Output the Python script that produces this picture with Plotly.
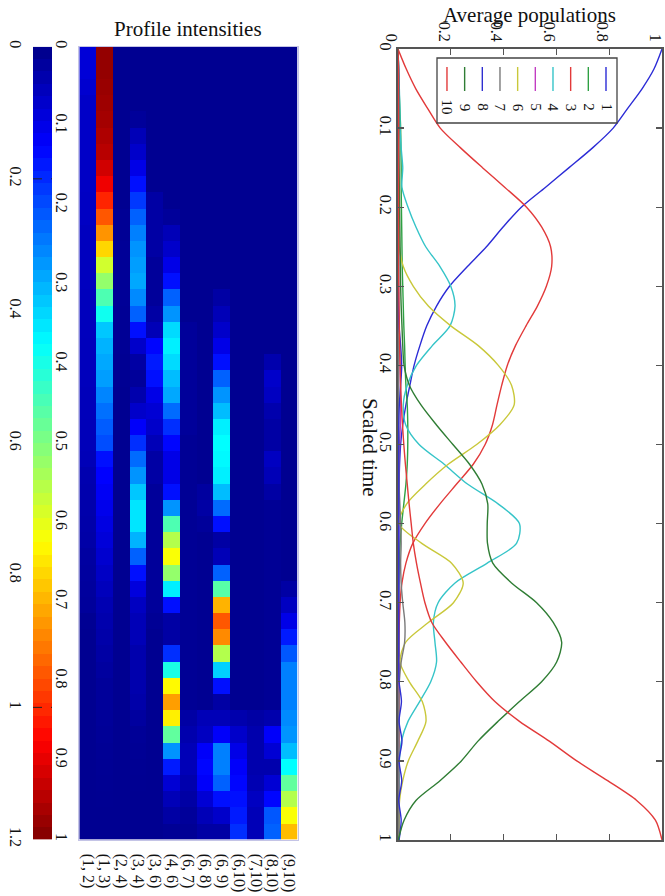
import numpy as np
import plotly.graph_objects as go

FONT = "Liberation Serif"

# ---------------- Heatmap data (Profile intensities) ----------------
pair_labels = ["(1, 2)", "(1, 3)", "(2, 4)", "(3, 4)", "(3, 6)", "(4, 6)", "(6, 7)",
               "(6, 8)", "(6, 9)", "(6,10)", "(7,10)", "(8,10)", "(9,10)"]
n_time_bins = 49

pair_1_2 = [0.10, 0.10, 0.09, 0.08, 0.08, 0.08, 0.08, 0.078, 0.078, 0.075,
            0.075, 0.07, 0.07, 0.07, 0.07, 0.068, 0.068, 0.068, 0.066, 0.066,
            0.066, 0.064, 0.064, 0.062, 0.062, 0.06, 0.05, 0.048, 0.045, 0.042,
            0.04, 0.032, 0.03, 0.028, 0.025, 0.015, 0.013, 0.012, 0.012, 0.012,
            0.012, 0.012, 0.012, 0.012, 0.012, 0.012, 0.012, 0.012, 0.012]
pair_1_3 = [1.176, 1.176, 1.17, 1.164, 1.158, 1.146, 1.134, 1.104, 1.068, 1.008,
            0.948, 0.876, 0.798, 0.696, 0.624, 0.54, 0.468, 0.384, 0.36, 0.348,
            0.336, 0.306, 0.282, 0.258, 0.24, 0.168, 0.15, 0.138, 0.126, 0.114,
            0.102, 0.09, 0.078, 0.066, 0.054, 0.048, 0.042, 0.036, 0.03, 0.024,
            0.024, 0.022, 0.02, 0.018, 0.016, 0.015, 0.014, 0.013, 0.012]
pair_2_4 = [0.012, 0.012, 0.012, 0.012, 0.012, 0.012, 0.012, 0.012, 0.012, 0.012,
            0.018, 0.018, 0.02, 0.02, 0.02, 0.02, 0.018, 0.018, 0.018, 0.015,
            0.015, 0.012, 0.012, 0.012, 0.012, 0.012, 0.012, 0.012, 0.012, 0.012,
            0.012, 0.012, 0.012, 0.012, 0.012, 0.012, 0.012, 0.012, 0.012, 0.012,
            0.012, 0.012, 0.012, 0.012, 0.012, 0.012, 0.012, 0.012, 0.012]
pair_3_4 = [0.012, 0.012, 0.012, 0.012, 0.024, 0.06, 0.084, 0.12, 0.168, 0.216,
            0.264, 0.3, 0.324, 0.336, 0.348, 0.312, 0.264, 0.168, 0.084, 0.036,
            0.024, 0.048, 0.084, 0.144, 0.204, 0.276, 0.324, 0.384, 0.42, 0.42,
            0.36, 0.264, 0.168, 0.108, 0.072, 0.06, 0.06, 0.048, 0.048, 0.048,
            0.042, 0.03, 0.02, 0.018, 0.015, 0.014, 0.013, 0.012, 0.012]
pair_3_6 = [0.012, 0.012, 0.012, 0.012, 0.012, 0.012, 0.012, 0.012, 0.012, 0.036,
            0.036, 0.036, 0.036, 0.024, 0.024, 0.024, 0.036, 0.06, 0.156, 0.18,
            0.168, 0.12, 0.096, 0.084, 0.06, 0.036, 0.036, 0.024, 0.024, 0.024,
            0.024, 0.024, 0.024, 0.024, 0.024, 0.018, 0.012, 0.012, 0.012, 0.012,
            0.012, 0.012, 0.012, 0.012, 0.012, 0.012, 0.012, 0.012, 0.012]
pair_4_6 = [0.012, 0.012, 0.012, 0.012, 0.012, 0.012, 0.012, 0.012, 0.012, 0.012,
            0.024, 0.06, 0.084, 0.12, 0.168, 0.264, 0.324, 0.408, 0.432, 0.408,
            0.372, 0.348, 0.276, 0.204, 0.156, 0.12, 0.12, 0.168, 0.324, 0.54,
            0.66, 0.744, 0.624, 0.432, 0.168, 0.036, 0.036, 0.204, 0.48, 0.756,
            0.864, 0.768, 0.564, 0.324, 0.18, 0.096, 0.06, 0.036, 0.018]
pair_6_7 = [0.012, 0.012, 0.012, 0.012, 0.012, 0.012, 0.012, 0.012, 0.012, 0.012,
            0.012, 0.012, 0.012, 0.012, 0.012, 0.012, 0.012, 0.024, 0.024, 0.024,
            0.024, 0.024, 0.024, 0.024, 0.018, 0.018, 0.018, 0.018, 0.018, 0.018,
            0.018, 0.018, 0.018, 0.018, 0.018, 0.018, 0.018, 0.018, 0.018, 0.018,
            0.018, 0.036, 0.048, 0.06, 0.06, 0.048, 0.036, 0.024, 0.018]
pair_6_8 = [0.012, 0.012, 0.012, 0.012, 0.012, 0.012, 0.012, 0.012, 0.012, 0.012,
            0.012, 0.012, 0.012, 0.012, 0.012, 0.012, 0.012, 0.012, 0.012, 0.012,
            0.012, 0.012, 0.012, 0.012, 0.012, 0.012, 0.012, 0.03, 0.036, 0.024,
            0.014, 0.014, 0.014, 0.014, 0.014, 0.014, 0.014, 0.014, 0.014, 0.014,
            0.014, 0.06, 0.072, 0.144, 0.156, 0.144, 0.096, 0.06, 0.036]
pair_6_9 = [0.012, 0.012, 0.012, 0.012, 0.012, 0.012, 0.012, 0.012, 0.012, 0.012,
            0.012, 0.012, 0.012, 0.012, 0.012, 0.036, 0.06, 0.084, 0.12, 0.168,
            0.264, 0.324, 0.372, 0.432, 0.45, 0.444, 0.432, 0.372, 0.276, 0.168,
            0.036, 0.06, 0.264, 0.552, 0.84, 0.948, 0.888, 0.66, 0.396, 0.168,
            0.036, 0.06, 0.144, 0.3, 0.3, 0.264, 0.168, 0.084, 0.036]
pair_6_10 = [0.012, 0.012, 0.012, 0.012, 0.012, 0.012, 0.012, 0.012, 0.012, 0.012,
             0.012, 0.012, 0.012, 0.012, 0.012, 0.012, 0.012, 0.012, 0.012, 0.012,
             0.012, 0.012, 0.012, 0.012, 0.012, 0.012, 0.012, 0.012, 0.012, 0.012,
             0.012, 0.012, 0.012, 0.012, 0.012, 0.012, 0.012, 0.012, 0.012, 0.012,
             0.012, 0.048, 0.084, 0.12, 0.144, 0.156, 0.168, 0.18, 0.204]
pair_7_10 = [0.012, 0.012, 0.012, 0.012, 0.012, 0.012, 0.012, 0.012, 0.012, 0.012,
             0.012, 0.012, 0.012, 0.012, 0.012, 0.012, 0.012, 0.012, 0.012, 0.012,
             0.012, 0.012, 0.012, 0.012, 0.012, 0.012, 0.012, 0.012, 0.012, 0.012,
             0.012, 0.012, 0.012, 0.012, 0.012, 0.012, 0.012, 0.012, 0.012, 0.012,
             0.012, 0.036, 0.048, 0.048, 0.048, 0.054, 0.072, 0.06, 0.06]
pair_8_10 = [0.012, 0.012, 0.012, 0.012, 0.012, 0.012, 0.012, 0.012, 0.012, 0.012,
             0.012, 0.012, 0.012, 0.012, 0.012, 0.012, 0.012, 0.012, 0.012, 0.048,
             0.084, 0.072, 0.048, 0.036, 0.036, 0.072, 0.06, 0.036, 0.018, 0.018,
             0.018, 0.018, 0.018, 0.018, 0.018, 0.018, 0.018, 0.018, 0.018, 0.018,
             0.018, 0.048, 0.144, 0.096, 0.048, 0.096, 0.156, 0.252, 0.264]
pair_9_10 = [0.012, 0.012, 0.012, 0.012, 0.012, 0.012, 0.012, 0.012, 0.012, 0.012,
             0.012, 0.012, 0.012, 0.012, 0.012, 0.012, 0.012, 0.012, 0.012, 0.012,
             0.012, 0.012, 0.012, 0.012, 0.012, 0.012, 0.012, 0.012, 0.012, 0.012,
             0.012, 0.012, 0.012, 0.036, 0.072, 0.12, 0.18, 0.252, 0.3, 0.3,
             0.3, 0.312, 0.324, 0.372, 0.45, 0.564, 0.66, 0.744, 0.828]

intensity_columns = [pair_1_2, pair_1_3, pair_2_4, pair_3_4, pair_3_6, pair_4_6, pair_6_7,
                     pair_6_8, pair_6_9, pair_6_10, pair_7_10, pair_8_10, pair_9_10]
intensity = np.array(intensity_columns, dtype=float).T  # rows = time bins

colorbar_ticks = [0, 0.2, 0.4, 0.6, 0.8, 1.0, 1.2]
colorbar_ticktext = ["0", "0.2", "0.4", "0.6", "0.8", "1", "1.2"]
colorbar_marks = [0.2, 1.0]
n_colors = 64
cmax = 1.2

# ---------------- Line data (Average populations) ----------------
time_grid = [0.0, 0.025, 0.05, 0.075, 0.1, 0.125, 0.15, 0.175, 0.2, 0.225,
             0.25, 0.275, 0.3, 0.325, 0.35, 0.375, 0.4, 0.425, 0.45, 0.475,
             0.5, 0.525, 0.55, 0.575, 0.6, 0.625, 0.65, 0.675, 0.7, 0.725,
             0.75, 0.775, 0.8, 0.825, 0.85, 0.875, 0.9, 0.925, 0.95, 0.975, 1.0]

pop_1 = [1.0, 0.97, 0.925, 0.87, 0.815, 0.737, 0.648, 0.558, 0.467, 0.398,
         0.335, 0.263, 0.195, 0.146, 0.109, 0.083, 0.061, 0.045, 0.03, 0.018,
         0.01, 0.006, 0.004, 0.003, 0.003, 0.003, 0.003, 0.003, 0.002, 0.002,
         0.002, 0.002, 0.002, 0.002, 0.002, 0.002, 0.002, 0.002, 0.002, 0.002, 0.002]
pop_2 = [0.0, 0.002, 0.004, 0.007, 0.01, 0.011, 0.012, 0.012, 0.013, 0.014,
         0.015, 0.016, 0.018, 0.02, 0.022, 0.025, 0.027, 0.03, 0.035, 0.037,
         0.037, 0.035, 0.03, 0.022, 0.014, 0.008, 0.005, 0.003, 0.003, 0.003,
         0.003, 0.003, 0.003, 0.003, 0.003, 0.003, 0.003, 0.003, 0.003, 0.003, 0.003]
pop_3 = [0.0, 0.031, 0.067, 0.112, 0.16, 0.237, 0.32, 0.405, 0.487, 0.544,
         0.578, 0.582, 0.562, 0.528, 0.485, 0.445, 0.414, 0.393, 0.375, 0.358,
         0.33, 0.285, 0.222, 0.159, 0.102, 0.056, 0.03, 0.015, 0.008, 0.005,
         0.003, 0.003, 0.003, 0.003, 0.003, 0.003, 0.003, 0.003, 0.003, 0.003, 0.003]
pop_4 = [0.0, 0.003, 0.005, 0.007, 0.008, 0.012, 0.018, 0.015, 0.038, 0.068,
         0.105, 0.159, 0.2, 0.216, 0.197, 0.13, 0.07, 0.035, 0.02, 0.029,
         0.08, 0.175, 0.263, 0.379, 0.46, 0.449, 0.338, 0.216, 0.152, 0.134,
         0.14, 0.146, 0.124, 0.082, 0.038, 0.013, 0.005, 0.004, 0.003, 0.003, 0.003]
pop_5 = [0.0, 0.001, 0.001, 0.001, 0.001, 0.001, 0.001, 0.001, 0.001, 0.001,
         0.001, 0.001, 0.001, 0.001, 0.004, 0.006, 0.008, 0.009, 0.01, 0.009,
         0.006, 0.004, 0.003, 0.002, 0.002, 0.002, 0.002, 0.002, 0.002, 0.002,
         0.002, 0.002, 0.002, 0.002, 0.002, 0.002, 0.002, 0.002, 0.002, 0.002, 0.002]
pop_6 = [0.0, 0.001, 0.001, 0.001, 0.001, 0.001, 0.001, 0.002, 0.002, 0.003,
         0.005, 0.02, 0.058, 0.115, 0.2, 0.304, 0.38, 0.43, 0.44, 0.386,
         0.298, 0.19, 0.105, 0.033, 0.004, 0.09, 0.203, 0.247, 0.21, 0.115,
         0.029, 0.008, 0.043, 0.092, 0.106, 0.075, 0.039, 0.018, 0.006, 0.003, 0.002]
pop_7 = [0.0, 0.002, 0.002, 0.002, 0.002, 0.002, 0.002, 0.002, 0.002, 0.002,
         0.002, 0.002, 0.002, 0.002, 0.002, 0.002, 0.002, 0.002, 0.002, 0.002,
         0.003, 0.003, 0.004, 0.007, 0.01, 0.012, 0.01, 0.012, 0.018, 0.026,
         0.025, 0.012, 0.005, 0.003, 0.003, 0.003, 0.003, 0.003, 0.003, 0.003, 0.003]
pop_8 = [0.0, 0.002, 0.002, 0.002, 0.002, 0.002, 0.002, 0.002, 0.002, 0.002,
         0.002, 0.002, 0.002, 0.002, 0.004, 0.01, 0.014, 0.01, 0.005, 0.003,
         0.003, 0.003, 0.003, 0.003, 0.003, 0.003, 0.003, 0.003, 0.003, 0.003,
         0.003, 0.003, 0.004, 0.013, 0.004, 0.015, 0.004, 0.014, 0.003, 0.012, 0.004]
pop_9 = [0.0, 0.001, 0.002, 0.002, 0.003, 0.003, 0.004, 0.005, 0.006, 0.007,
         0.008, 0.009, 0.01, 0.012, 0.015, 0.018, 0.023, 0.043, 0.087, 0.145,
         0.208, 0.271, 0.318, 0.34, 0.338, 0.339, 0.359, 0.43, 0.525, 0.588,
         0.62, 0.601, 0.544, 0.46, 0.379, 0.303, 0.24, 0.159, 0.068, 0.023, 0.001]
pop_10 = [0.0, 0.002, 0.002, 0.002, 0.002, 0.002, 0.002, 0.002, 0.002, 0.002,
          0.002, 0.002, 0.003, 0.004, 0.005, 0.006, 0.008, 0.01, 0.013, 0.017,
          0.022, 0.028, 0.035, 0.042, 0.05, 0.058, 0.07, 0.085, 0.102, 0.128,
          0.18, 0.238, 0.298, 0.367, 0.46, 0.573, 0.677, 0.794, 0.904, 0.975, 1.0]

populations = [pop_1, pop_2, pop_3, pop_4, pop_5, pop_6, pop_7, pop_8, pop_9, pop_10]
series_names = ["1", "2", "3", "4", "5", "6", "7", "8", "9", "10"]
series_colors = ["#2b2bd6", "#2ea043", "#e23a3a", "#35c4c8", "#c23cc2",
                 "#c9c83a", "#7a7a7a", "#2f2fd0", "#2f7d34", "#e23a3a"]

pop_ticks = [0, 0.2, 0.4, 0.6, 0.8, 1.0]
pop_ticktext = ["0", "0.2", "0.4", "0.6", "0.8", "1"]
time_ticks = [0, 0.1, 0.2, 0.3, 0.4, 0.5, 0.6, 0.7, 0.8, 0.9, 1.0]
time_ticktext = ["0", "0.1", "0.2", "0.3", "0.4", "0.5", "0.6", "0.7", "0.8", "0.9", "1"]

# MATLAB-like jet colormap
JET = [[0.0, "rgb(0,0,135)"], [0.125, "rgb(0,0,255)"], [0.375, "rgb(0,255,255)"],
       [0.625, "rgb(255,255,0)"], [0.875, "rgb(255,0,0)"], [1.0, "rgb(128,0,0)"]]

W, H = 665, 896


def px_x(x):
    return x / W


def px_y(y):
    return 1 - y / H


fig = go.Figure()

# Heatmap
fig.add_trace(go.Heatmap(
    z=intensity, x=pair_labels, y0=0.5 / n_time_bins, dy=1.0 / n_time_bins,
    colorscale=JET, zmin=0, zmax=cmax, showscale=False,
    xaxis="x", yaxis="y", hoverinfo="skip"))

# Colorbar drawn as a one-column heatmap (0 at top)
cb_step = cmax / n_colors
cb_levels = (np.arange(n_colors) + 0.5) * cb_step
fig.add_trace(go.Heatmap(
    z=[[v] for v in cb_levels], x=[0], y0=cb_step / 2, dy=cb_step,
    colorscale=JET, zmin=0, zmax=cmax, showscale=False,
    xaxis="x3", yaxis="y3", hoverinfo="skip"))

# Population lines
for name, vals, col in zip(series_names, populations, series_colors):
    fig.add_trace(go.Scatter(
        x=vals, y=time_grid, mode="lines", name=name,
        line=dict(color=col, width=1.4, shape="spline", smoothing=0.8),
        xaxis="x2", yaxis="y2", showlegend=False, hoverinfo="skip"))

tickfont = dict(family=FONT, size=16, color="#111")
hm_y_dom = [px_y(839.5), px_y(46.7)]
lp_y_dom = [px_y(840), px_y(49)]

fig.update_layout(
    width=W, height=H, template="none",
    margin=dict(l=0, r=0, t=0, b=0),
    paper_bgcolor="white", plot_bgcolor="white",
    font=dict(family=FONT, size=16, color="#111"),
    xaxis=dict(domain=[px_x(79.3), px_x(297.7)], anchor="y", type="category",
               tickmode="array", tickvals=pair_labels, ticktext=pair_labels,
               tickangle=90, ticks="", tickfont=tickfont, showgrid=False, zeroline=False,
               showline=True, linecolor="#c4c4e6", linewidth=1, mirror=True,
               automargin=False, ticklabelstandoff=10),
    yaxis=dict(domain=hm_y_dom, anchor="x", range=[1, 0], tickvals=time_ticks,
               ticktext=time_ticktext, tickangle=90, ticks="", tickfont=tickfont,
               showgrid=False, zeroline=False, showline=True, linecolor="#c4c4e6",
               linewidth=1, mirror=True, automargin=False, ticklabelstandoff=3,
               ticklabeloverflow="allow"),
    xaxis3=dict(domain=[px_x(33), px_x(52)], anchor="y3", showticklabels=False,
                ticks="", showgrid=False, zeroline=False, automargin=False),
    yaxis3=dict(domain=hm_y_dom, anchor="x3", range=[cmax, 0], tickvals=colorbar_ticks,
                ticktext=colorbar_ticktext, tickangle=90, ticks="", tickfont=tickfont,
                showgrid=False, zeroline=False, automargin=False, ticklabelstandoff=6,
                ticklabeloverflow="allow"),
    xaxis2=dict(domain=[px_x(398), px_x(662)], anchor="y2", side="top", range=[0, 1],
                tickvals=pop_ticks, ticktext=pop_ticktext, tickangle=90,
                ticks="inside", ticklen=6, tickcolor="#555", tickwidth=1.3,
                mirror="ticks", showline=True, linecolor="#555", linewidth=1.6,
                tickfont=tickfont, showgrid=False, zeroline=False, automargin=False,
                ticklabeloverflow="allow", ticklabelshift=-7),
    yaxis2=dict(domain=lp_y_dom, anchor="x2", range=[1, 0],
                tickvals=time_ticks, ticktext=time_ticktext, tickangle=90,
                ticks="inside", ticklen=6, tickcolor="#555", tickwidth=1.3,
                mirror="ticks", showline=True, linecolor="#555", linewidth=1.6,
                tickfont=tickfont, showgrid=False, zeroline=False, automargin=False,
                ticklabelstandoff=-3, ticklabeloverflow="allow"),
)

shapes = []
# dashed marks on colorbar
for m in colorbar_marks:
    shapes.append(dict(type="line", xref="x3 domain", yref="y3", x0=0, x1=1, y0=m, y1=m,
                       line=dict(color="#222", width=1, dash="dash"), layer="above"))

# custom rotated legend
lx0, lx1 = (437 - 398) / 264, (617 - 398) / 264
ly_top, ly_bot = 1 - (58 - 49) / 791, 1 - (123 - 49) / 791
shapes.append(dict(type="rect", xref="x2 domain", yref="y2 domain",
                   x0=lx0, x1=lx1, y0=ly_bot, y1=ly_top,
                   line=dict(color="#444", width=1.3), fillcolor="white", layer="above"))
annotations = []
for k, (name, col) in enumerate(zip(series_names, series_colors)):
    xk = (606 - k * 17.67 - 398) / 264
    shapes.append(dict(type="line", xref="x2 domain", yref="y2 domain",
                       x0=xk, x1=xk, y0=1 - (91 - 49) / 791, y1=1 - (67 - 49) / 791,
                       line=dict(color=col, width=1.4), layer="above"))
    annotations.append(dict(text=name, xref="x2 domain", yref="y2 domain",
                            x=xk, y=1 - (107.5 - 49) / 791, showarrow=False,
                            textangle=90, font=dict(family=FONT, size=15, color="#111"),
                            xanchor="center", yanchor="middle"))

annotations.append(dict(text="Average populations", xref="paper", yref="paper",
                        x=px_x(529.5), y=px_y(15), showarrow=False,
                        font=dict(family=FONT, size=21, color="#111"),
                        xanchor="center", yanchor="middle"))
annotations.append(dict(text="Profile intensities", xref="paper", yref="paper",
                        x=px_x(187.5), y=px_y(29), showarrow=False,
                        font=dict(family=FONT, size=21, color="#111"),
                        xanchor="center", yanchor="middle"))
annotations.append(dict(text="Scaled time", xref="paper", yref="paper",
                        x=px_x(370), y=px_y(447), showarrow=False, textangle=90,
                        font=dict(family=FONT, size=21, color="#111"),
                        xanchor="center", yanchor="middle"))

fig.update_layout(shapes=shapes, annotations=annotations)
fig.write_html("out.html", config={"displayModeBar": False, "staticPlot": True},
               post_script="document.body.style.margin='0px';")
